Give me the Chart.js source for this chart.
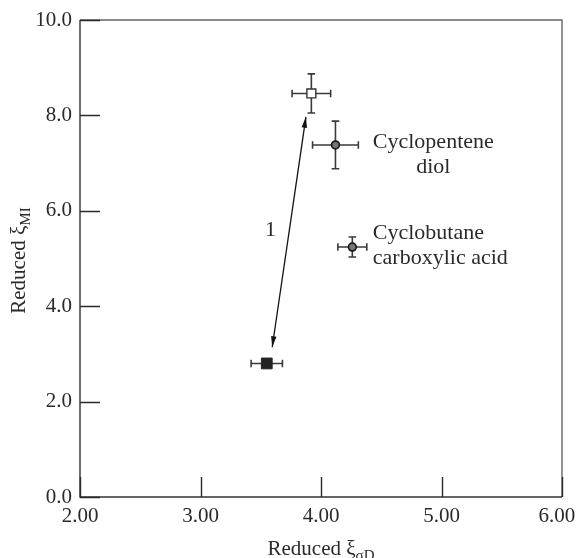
<!DOCTYPE html>
<html>
<head>
<meta charset="utf-8">
<script src="https://cdn.jsdelivr.net/npm/chart.js@4.4.0/dist/chart.umd.min.js"></script>
<style>
  html, body { margin: 0; padding: 0; background: #fff; }
  #wrap { width: 577px; height: 558px; position: relative; }
</style>
</head>
<body>
<div id="wrap"><canvas id="c" width="577" height="558"></canvas></div>
<script>
// Reduced dispersion / polar interaction parameters of the compounds
const compounds = ['Reference (open)', 'Cyclopentene diol', 'Cyclobutane carboxylic acid', 'Reference (filled)'];
const xValues = [3.92, 4.12, 4.26, 3.55];
const yValues = [8.46, 7.38, 5.24, 2.80];
const xErrors = [0.16, 0.19, 0.12, 0.13];
const yErrors = [0.41, 0.50, 0.21, 0.00];

// Double-headed arrow labelled "1" linking the two squares
const arrowStart = [3.595, 3.14];
const arrowEnd = [3.875, 7.97];
const arrowLabel = '1';
const arrowLabelPos = [3.58, 5.62];

const xTicks = [2, 3, 4, 5, 6];
const yTicks = [0, 2, 4, 6, 8, 10];

const SERIF = '"Liberation Serif", "DejaVu Serif", serif';
const INK = '#2a2a2a';

function pt(i) { return { x: xValues[i], y: yValues[i] }; }

// Frame, inward ticks, error bars, arrow and text annotations
const decorations = {
  id: 'decorations',
  beforeDatasetsDraw(chart) {
    const { ctx, chartArea: a, scales: { x, y } } = chart;
    ctx.save();
    // frame: top/right lighter, left/bottom darker
    ctx.lineWidth = 1.4;
    ctx.strokeStyle = '#666';
    ctx.beginPath();
    ctx.moveTo(a.left, a.top); ctx.lineTo(a.right, a.top); ctx.lineTo(a.right, a.bottom);
    ctx.stroke();
    ctx.strokeStyle = '#333';
    ctx.beginPath();
    ctx.moveTo(a.left, a.top); ctx.lineTo(a.left, a.bottom); ctx.lineTo(a.right, a.bottom);
    ctx.stroke();
    // inward ticks
    ctx.strokeStyle = INK;
    ctx.lineWidth = 1.4;
    ctx.beginPath();
    xTicks.forEach(v => {
      const px = Math.round(x.getPixelForValue(v)) + 0.5;
      ctx.moveTo(px, a.bottom); ctx.lineTo(px, a.bottom - 20);
    });
    yTicks.forEach(v => {
      const py = Math.round(y.getPixelForValue(v)) + 0.5;
      ctx.moveTo(a.left, py); ctx.lineTo(a.left + 20, py);
    });
    ctx.stroke();
    // error bars
    ctx.strokeStyle = '#3a3a3a';
    ctx.lineWidth = 1.6;
    const cap = 3.8;
    for (let i = 0; i < xValues.length; i++) {
      const cx = x.getPixelForValue(xValues[i]);
      const cy = y.getPixelForValue(yValues[i]);
      ctx.beginPath();
      if (xErrors[i] > 0) {
        const x1 = x.getPixelForValue(xValues[i] - xErrors[i]);
        const x2 = x.getPixelForValue(xValues[i] + xErrors[i]);
        ctx.moveTo(x1, cy); ctx.lineTo(x2, cy);
        ctx.moveTo(x1, cy - cap); ctx.lineTo(x1, cy + cap);
        ctx.moveTo(x2, cy - cap); ctx.lineTo(x2, cy + cap);
      }
      if (yErrors[i] > 0) {
        const y1 = y.getPixelForValue(yValues[i] - yErrors[i]);
        const y2 = y.getPixelForValue(yValues[i] + yErrors[i]);
        ctx.moveTo(cx, y1); ctx.lineTo(cx, y2);
        ctx.moveTo(cx - cap, y1); ctx.lineTo(cx + cap, y1);
        ctx.moveTo(cx - cap, y2); ctx.lineTo(cx + cap, y2);
      }
      ctx.stroke();
    }
    // arrow
    const sx = x.getPixelForValue(arrowStart[0]), sy = y.getPixelForValue(arrowStart[1]);
    const ex = x.getPixelForValue(arrowEnd[0]), ey = y.getPixelForValue(arrowEnd[1]);
    ctx.strokeStyle = '#111';
    ctx.fillStyle = '#111';
    ctx.lineWidth = 1.3;
    ctx.beginPath(); ctx.moveTo(sx, sy); ctx.lineTo(ex, ey); ctx.stroke();
    const head = (tx, ty, fx, fy) => {
      const ang = Math.atan2(ty - fy, tx - fx);
      const len = 11, hw = 2.7;
      const bx = tx - len * Math.cos(ang), by = ty - len * Math.sin(ang);
      ctx.beginPath();
      ctx.moveTo(tx, ty);
      ctx.lineTo(bx + hw * Math.sin(ang), by - hw * Math.cos(ang));
      ctx.lineTo(bx - hw * Math.sin(ang), by + hw * Math.cos(ang));
      ctx.closePath(); ctx.fill();
    };
    head(ex, ey, sx, sy);
    head(sx, sy, ex, ey);
    ctx.restore();
  },
  afterDraw(chart) {
    const { ctx, chartArea: a, scales: { x, y } } = chart;
    ctx.save();
    ctx.fillStyle = INK;
    ctx.font = '22px ' + SERIF;
    ctx.textBaseline = 'alphabetic';
    // arrow label
    ctx.textAlign = 'center';
    ctx.fillText(arrowLabel, x.getPixelForValue(arrowLabelPos[0]), y.getPixelForValue(arrowLabelPos[1]) + 7);
    // compound names
    const lx = x.getPixelForValue(4.43);
    ctx.textAlign = 'left';
    const p1y = y.getPixelForValue(yValues[1]);
    ctx.fillText('Cyclopentene', lx, p1y + 3);
    const w1 = ctx.measureText('Cyclopentene').width;
    ctx.textAlign = 'center';
    ctx.fillText('diol', lx + w1 / 2, p1y + 28);
    ctx.textAlign = 'left';
    const p2y = y.getPixelForValue(yValues[2]);
    ctx.fillText('Cyclobutane', lx, p2y - 8);
    ctx.fillText('carboxylic acid', lx, p2y + 17);

    // axis titles with subscripts
    const drawTitle = (main, sub) => {
      ctx.font = '21px ' + SERIF;
      const wm = ctx.measureText(main).width;
      ctx.font = '15px ' + SERIF;
      const ws = ctx.measureText(sub).width;
      const total = wm + ws;
      ctx.textAlign = 'left';
      ctx.font = '21px ' + SERIF;
      ctx.fillText(main, -total / 2, 0);
      ctx.font = '15px ' + SERIF;
      ctx.fillText(sub, -total / 2 + wm, 5);
    };
    ctx.save();
    ctx.translate((a.left + a.right) / 2, 555);
    drawTitle('Reduced \u03BE', '\u03C3D');
    ctx.restore();
    ctx.save();
    ctx.translate(25, (a.top + a.bottom) / 2 + 2);
    ctx.rotate(-Math.PI / 2);
    drawTitle('Reduced \u03BE', 'MI');
    ctx.restore();
    ctx.restore();
  }
};

const ctx = document.getElementById('c').getContext('2d');
new Chart(ctx, {
  type: 'scatter',
  data: {
    datasets: [
      {
        label: compounds[0],
        data: [pt(0)],
        pointStyle: 'rect',
        pointRadius: 6.3,
        backgroundColor: '#fff',
        borderColor: '#333',
        borderWidth: 1.4
      },
      {
        label: compounds[3],
        data: [pt(3)],
        pointStyle: 'rect',
        pointRadius: 7.6,
        backgroundColor: '#222',
        borderColor: '#222',
        borderWidth: 1
      },
      {
        label: compounds[1] + ' / ' + compounds[2],
        data: [pt(1), pt(2)],
        pointStyle: 'circle',
        pointRadius: 3.9,
        backgroundColor: '#777',
        borderColor: '#1a1a1a',
        borderWidth: 1.7
      },
      {
        label: 'cross',
        data: [pt(1), pt(2)],
        pointStyle: 'crossRot',
        pointRadius: 4,
        borderColor: '#1a1a1a',
        borderWidth: 1.5
      }
    ]
  },
  options: {
    responsive: false,
    animation: false,
    layout: { padding: { top: 20, right: 15, left: 0, bottom: 0 } },
    plugins: {
      legend: { display: false },
      tooltip: { enabled: false }
    },
    scales: {
      x: {
        type: 'linear',
        min: 2, max: 6,
        afterBuildTicks: s => { s.ticks = xTicks.map(v => ({ value: v })); },
        afterFit: s => { s.height = 61; s.paddingLeft = 0; s.paddingRight = 0; },
        grid: { display: false, drawTicks: false },
        border: { display: false },
        ticks: {
          padding: 7,
          color: INK,
          font: { family: SERIF, size: 21 },
          // last label kept inside the canvas edge
          callback: v => v === 6 ? v.toFixed(2) + '\u2002' : v.toFixed(2)
        }
      },
      y: {
        type: 'linear',
        min: 0, max: 10,
        afterBuildTicks: s => { s.ticks = yTicks.map(v => ({ value: v })); },
        afterFit: s => { s.width = 80; s.paddingTop = 0; s.paddingBottom = 0; },
        grid: { display: false, drawTicks: false },
        border: { display: false },
        ticks: {
          padding: 8,
          color: INK,
          font: { family: SERIF, size: 21 },
          callback: v => v.toFixed(1)
        }
      }
    }
  },
  plugins: [decorations]
});
</script>
</body>
</html>
